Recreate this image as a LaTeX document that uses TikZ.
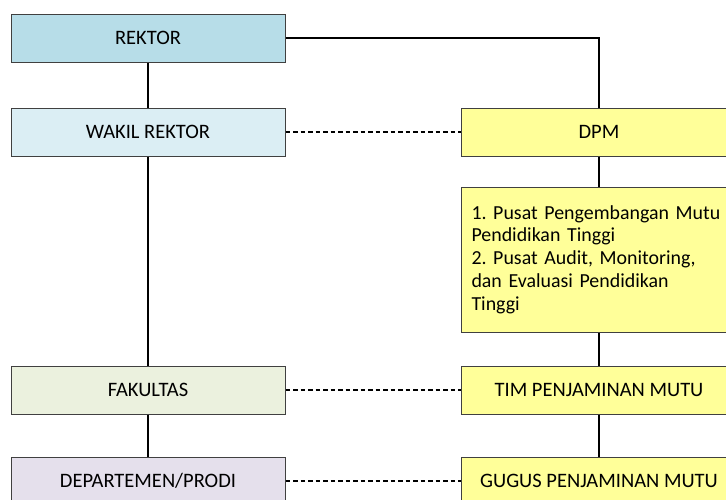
\documentclass[tikz,border=0pt]{standalone}
\usepackage{fontspec}
\setmainfont{Carlito}
\frenchspacing
\definecolor{biru}{HTML}{B7DDE8}
\definecolor{birumuda}{HTML}{DBEEF4}
\definecolor{hijau}{HTML}{EBF1DE}
\definecolor{ungu}{HTML}{E5E0EC}
\definecolor{kuning}{HTML}{FFFF99}
\definecolor{garis}{HTML}{404040}
\begin{document}
\begin{tikzpicture}[x=1pt,y=-1pt,
    box/.style={draw=garis, line width=1pt, minimum width=274pt, minimum height=48pt, inner sep=0pt,
        font=\fontsize{20.5}{22.8}\selectfont},
    link/.style={line width=2.6pt},
    dashlink/.style={line width=2.6pt, dash pattern=on 4.5pt off 3pt}]
    \useasboundingbox (0,0) rectangle (726,499);
    \clip (0,0) rectangle (726,499);
    % kolom kiri
    \node[box, fill=biru] (rektor) at (148,38) {REKTOR};
    \node[box, fill=birumuda] (wakil) at (148,132) {WAKIL REKTOR};
    \node[box, fill=hijau] (fakultas) at (148,390) {FAKULTAS};
    \node[box, fill=ungu] (dept) at (148,481) {DEPARTEMEN/PRODI};
    % kolom kanan
    \node[box, fill=kuning, minimum width=276pt] (dpm) at (599,132) {DPM};
    \node[box, fill=kuning, minimum height=145pt, text width=320pt, inner xsep=10pt, align=left, anchor=west,
        font=\fontsize{19.9}{22.8}\selectfont] (pusat) at (461,259.5)
        {1. Pusat Pengembangan Mutu\\Pendidikan Tinggi\\2. Pusat Audit, Monitoring,\\dan Evaluasi Pendidikan\\Tinggi};
    \node[box, fill=kuning, minimum width=276pt] (tim) at (599,390) {TIM PENJAMINAN MUTU};
    \node[box, fill=kuning, minimum width=276pt] (gugus) at (599,481) {GUGUS PENJAMINAN MUTU};
    % garis komando
    \draw[link] (rektor.south) -- (wakil.north);
    \draw[link] (wakil.south) -- (fakultas.north);
    \draw[link] (fakultas.south) -- (dept.north);
    \draw[link] (rektor.east) -| (dpm.north);
    \draw[link] (dpm.south) -- (dpm.south |- pusat.north);
    \draw[link] (dpm.south |- pusat.south) -- (tim.north);
    \draw[link] (tim.south) -- (gugus.north);
    % garis koordinasi
    \draw[dashlink] (wakil.east) -- (dpm.west);
    \draw[dashlink] (fakultas.east) -- (tim.west);
    \draw[dashlink] (dept.east) -- (gugus.west);
\end{tikzpicture}
\end{document}
